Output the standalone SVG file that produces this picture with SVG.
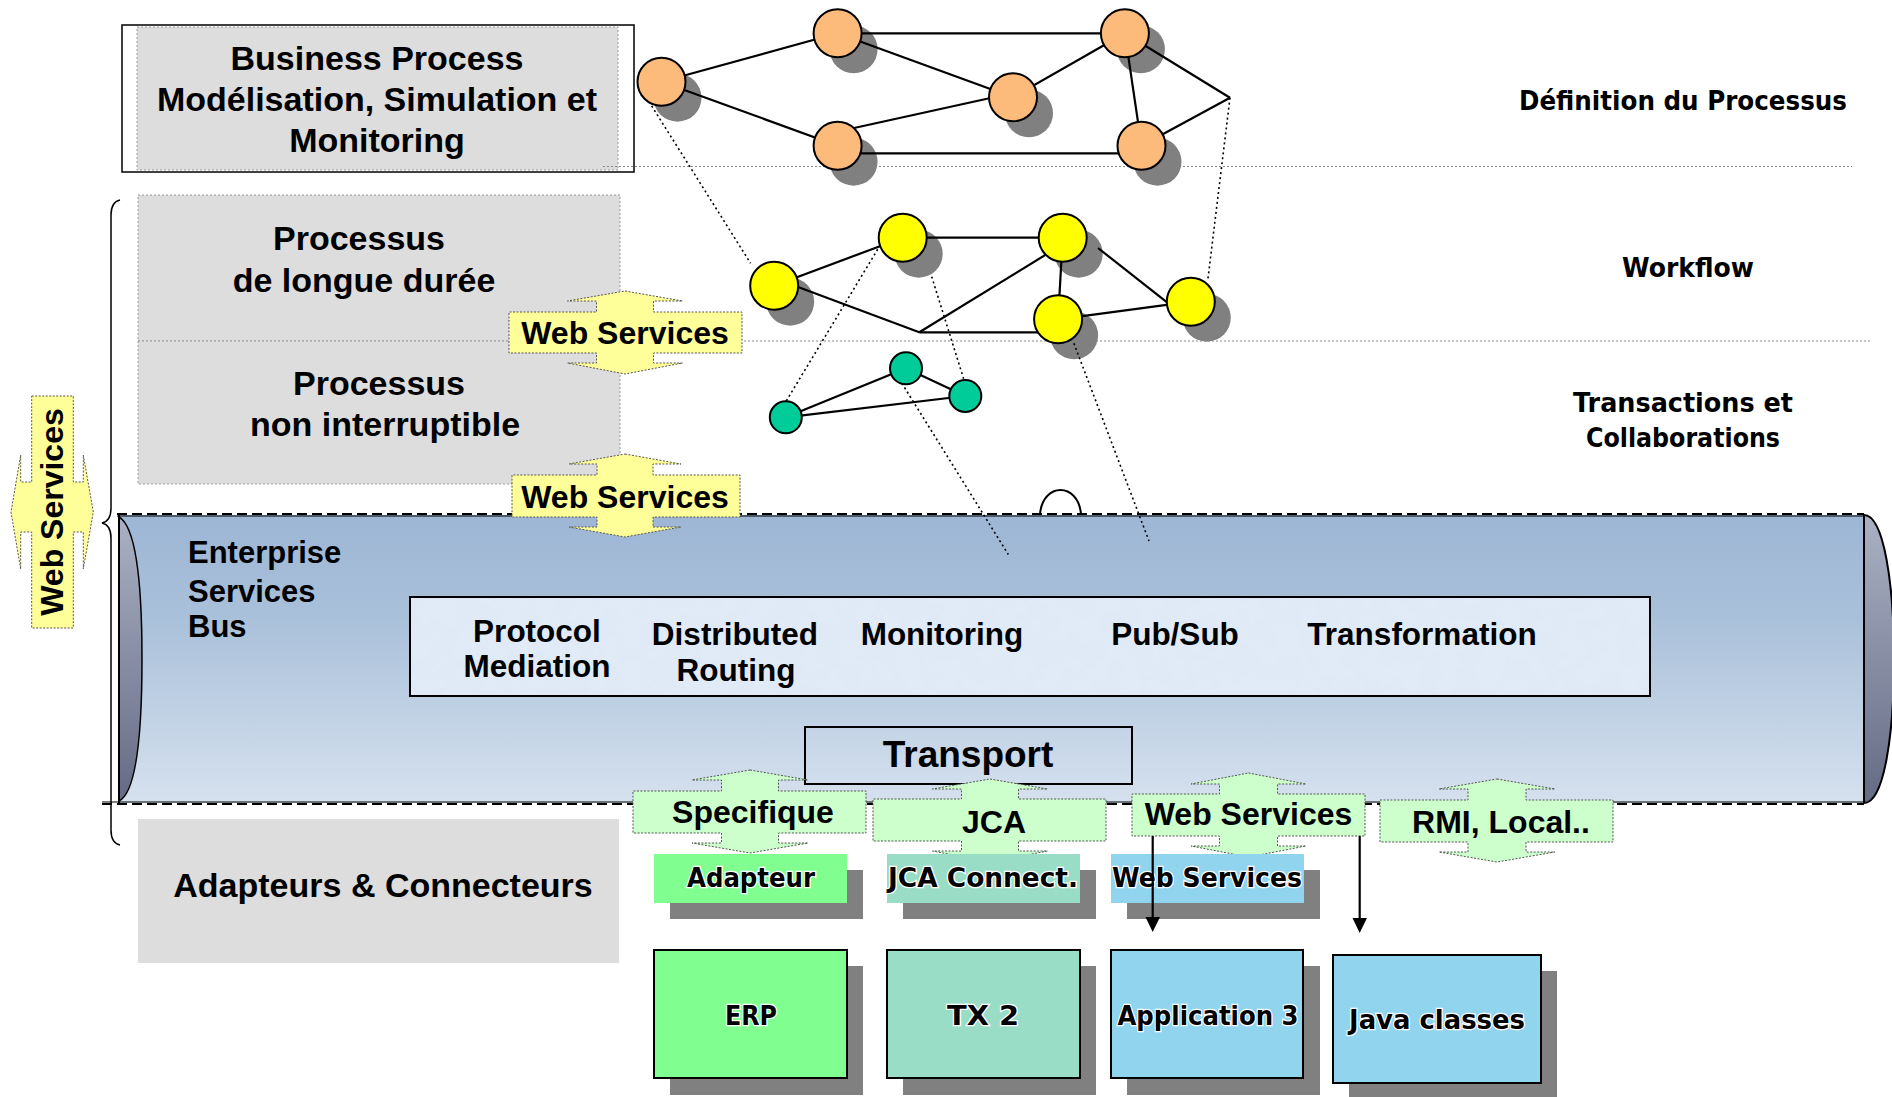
<svg xmlns="http://www.w3.org/2000/svg" width="1892" height="1097" viewBox="0 0 1892 1097">
<defs>
<style>
.t{font-family:"Liberation Sans",Arial,sans-serif;font-weight:bold;fill:#000}
.c{font-family:"DejaVu Sans",sans-serif;font-weight:bold;fill:#000;stroke:#fff;stroke-width:2.5;paint-order:stroke}
.gray{fill:#dddddd;stroke:#9a9a9a;stroke-width:1;stroke-dasharray:2 2}
.hl{stroke:#8a8a8a;stroke-width:1.2;stroke-dasharray:2 2;fill:none}
.edge{stroke:#000;stroke-width:2.2;fill:none}
.dot{stroke:#000;stroke-width:1.6;stroke-dasharray:2 3;fill:none}
.sh{fill:#808080}
.on{fill:#fdbb7b;stroke:#000;stroke-width:2}
.yn{fill:#ffff00;stroke:#000;stroke-width:2}
.gn{fill:#00cc99;stroke:#000;stroke-width:2}
.ay{fill:#ffff99;stroke:#555;stroke-width:1;stroke-dasharray:2 1.5}
.ag{fill:#ccffcc;stroke:#555;stroke-width:1;stroke-dasharray:2 1.5}
.box{stroke:#000;stroke-width:2}
.arr{stroke:#000;stroke-width:2.2;fill:none}
</style>
<linearGradient id="esb" x1="0" y1="0" x2="0" y2="1">
<stop offset="0" stop-color="#9db6d4"/>
<stop offset="0.35" stop-color="#a9c0da"/>
<stop offset="1" stop-color="#d6e1ee"/>
</linearGradient>
<linearGradient id="cap" x1="0" y1="0" x2="0" y2="1">
<stop offset="0" stop-color="#aab1c4"/>
<stop offset="1" stop-color="#646b84"/>
</linearGradient>
<filter id="mottle" x="0" y="0" width="1" height="1">
<feTurbulence type="fractalNoise" baseFrequency="0.05" numOctaves="3" seed="7" result="n"/>
<feColorMatrix in="n" type="matrix" values="0 0 0 0 0.76  0 0 0 0 0.84  0 0 0 0 0.95  1.3 0 0 0 -0.5" result="spots"/>
<feFlood flood-color="#e0eaf6" result="bg"/>
<feComposite in="spots" in2="bg" operator="over" result="m"/>
<feComposite in="m" in2="SourceGraphic" operator="in"/>
</filter>
</defs>

<rect width="1892" height="1097" fill="#fff"/>

<!-- left layer boxes -->
<g id="bp-box">
<rect x="122" y="25" width="512" height="147" fill="#fff" stroke="#000" stroke-width="1.5"/>
<rect class="gray" x="137" y="27" width="481" height="143"/>
<text class="t" font-size="34" text-anchor="middle"><tspan x="377" y="70">Business Process</tspan><tspan x="377" y="111">Modélisation, Simulation et</tspan><tspan x="377" y="152">Monitoring</tspan></text>
</g>
<g id="proc-longue">
<rect class="gray" x="138" y="195" width="482" height="146"/>
<text class="t" font-size="34" text-anchor="middle"><tspan x="359" y="250">Processus</tspan><tspan x="364" y="292">de longue durée</tspan></text>
</g>
<g id="proc-nonint">
<rect class="gray" x="138" y="341" width="482" height="143"/>
<text class="t" font-size="34" text-anchor="middle"><tspan x="379" y="395">Processus</tspan><tspan x="385" y="436">non interruptible</tspan></text>
</g>
<g id="adapt-box">
<rect x="138" y="819" width="481" height="144" fill="#dddddd"/>
<text class="t" font-size="34" text-anchor="middle" x="383" y="897">Adapteurs &amp; Connecteurs</text>
</g>

<!-- separator lines -->
<g id="separators">
<line class="hl" x1="603" y1="166.5" x2="1852" y2="166.5"/>
<line class="hl" x1="620" y1="341" x2="1872" y2="341"/>
</g>

<!-- brace -->
<g id="brace">
<path d="M120,200 Q111,202 111,215 L111,508 Q111,521 102,523 Q111,525 111,538 L111,830 Q111,843 120,845" fill="none" stroke="#000" stroke-width="1.5"/>
</g>

<!-- ESB -->
<g id="esb">
<rect x="119" y="515" width="1745" height="288" fill="url(#esb)"/>
<path d="M1864,515 C1884,515 1894,585 1894,659 C1894,735 1884,803 1864,803 Z" fill="url(#cap)" stroke="#000" stroke-width="2"/>
<path d="M119,517 Q142,530 142,659 Q142,790 119,801 Z" fill="url(#cap)" stroke="#000" stroke-width="1.5"/>
<line x1="119" y1="515" x2="119" y2="803" stroke="#000" stroke-width="2"/>
<line x1="1864" y1="515" x2="1864" y2="803" stroke="#000" stroke-width="2"/>
<line x1="117" y1="516" x2="1864" y2="516" stroke="#000" stroke-width="1.2"/>
<line x1="117" y1="514" x2="1864" y2="514" stroke="#000" stroke-width="2" stroke-dasharray="10 5"/>
<line x1="102" y1="802" x2="1864" y2="802" stroke="#000" stroke-width="1.2"/>
<line x1="102" y1="804" x2="1864" y2="804" stroke="#000" stroke-width="2" stroke-dasharray="10 5"/>
<path d="M1040,514 C1043,482 1078,482 1081,514" fill="none" stroke="#000" stroke-width="2"/>
<text class="t" font-size="31"><tspan x="188" y="563">Enterprise</tspan><tspan x="188" y="602">Services</tspan><tspan x="188" y="637">Bus</tspan></text>
</g>

<g id="esb-services">
<rect x="410" y="597" width="1240" height="99" fill="#dfe9f5" filter="url(#mottle)"/>
<rect x="410" y="597" width="1240" height="99" fill="none" stroke="#000" stroke-width="2"/>
<text class="t" font-size="31.5" text-anchor="middle"><tspan x="537" y="642">Protocol</tspan><tspan x="537" y="677">Mediation</tspan></text>
<text class="t" font-size="31.5" text-anchor="middle"><tspan x="735" y="645">Distributed</tspan><tspan x="736" y="681">Routing</tspan></text>
<text class="t" font-size="31.5" text-anchor="middle" x="942" y="645">Monitoring</text>
<text class="t" font-size="31.5" text-anchor="middle" x="1175" y="645">Pub/Sub</text>
<text class="t" font-size="31.5" text-anchor="middle" x="1422" y="645">Transformation</text>
</g>

<g id="transport">
<rect x="805" y="727" width="327" height="57" fill="none" stroke="#000" stroke-width="2"/>
<text class="t" font-size="37" text-anchor="middle" x="968" y="767">Transport</text>
</g>

<!-- double arrows -->
<g id="ws-arrow-1">
<polygon class="ay" points="625,291 682.5,301 653.5,301 653.5,312 742,312 742,353 653.5,353 653.5,363 682.5,363 625,374 567.5,363 596.5,363 596.5,353 509,353 509,312 596.5,312 596.5,301 567.5,301"/>
<text class="t" font-size="32" text-anchor="middle" x="625" y="344">Web Services</text>
</g>
<g id="ws-arrow-2">
<polygon class="ay" points="625,454 681,464 653,464 653,475 740,475 740,517 653,517 653,527 681,527 625,537 569,527 597,527 597,517 512,517 512,475 597,475 597,464 569,464"/>
<text class="t" font-size="32" text-anchor="middle" x="625" y="508">Web Services</text>
</g>
<g id="ws-arrow-left">
<polygon class="ay" points="31.7,396 73.3,396 73.3,482 83.3,482 83.3,455 93.3,512 83.3,569 83.3,532 73.3,532 73.3,628 31.7,628 31.7,532 20.7,532 20.7,569 11,512 20.7,455 20.7,482 31.7,482"/>
<text class="t" font-size="32" text-anchor="middle" transform="translate(63,512) rotate(-90)">Web Services</text>
</g>
<g id="arrow-specifique">
<polygon class="ag" points="750,770 808,780 778.5,780 778.5,791 866,791 866,833 778.5,833 778.5,843 808,843 750,853 692,843 721.5,843 721.5,833 633,833 633,791 721.5,791 721.5,780 692,780"/>
<text class="t" font-size="32" text-anchor="middle" x="753" y="823">Specifique</text>
</g>
<g id="arrow-jca">
<polygon class="ag" points="990,779 1047.5,789 1018.5,789 1018.5,799 1106,799 1106,841 1018.5,841 1018.5,851 1047.5,851 990,862 932.5,851 961.5,851 961.5,841 873,841 873,799 961.5,799 961.5,789 932.5,789"/>
<text class="t" font-size="32" text-anchor="middle" x="994" y="833">JCA</text>
</g>
<g id="arrow-ws-green">
<polygon class="ag" points="1248.5,773 1306,784 1277.5,784 1277.5,794 1365,794 1365,836 1277.5,836 1277.5,846 1306,846 1248.5,857 1191,846 1219.5,846 1219.5,836 1132,836 1132,794 1219.5,794 1219.5,784 1191,784"/>
<text class="t" font-size="32" text-anchor="middle" x="1248.5" y="825">Web Services</text>
</g>
<g id="arrow-rmi">
<polygon class="ag" points="1497,779 1555,789 1526,789 1526,800 1613,800 1613,842 1526,842 1526,852 1555,852 1497,862 1439,852 1468,852 1468,842 1380,842 1380,800 1468,800 1468,789 1439,789"/>
<text class="t" font-size="32" text-anchor="middle" x="1501" y="833">RMI, Local..</text>
</g>

<!-- adapter labels -->
<g id="lbl-adapteur">
<rect class="sh" x="670" y="870" width="193" height="49"/>
<rect x="654" y="854" width="193" height="49" fill="#80ff90"/>
<text class="c" font-size="26" text-anchor="middle" x="751" y="887" textLength="128" lengthAdjust="spacingAndGlyphs">Adapteur</text>
</g>
<g id="lbl-jca">
<rect class="sh" x="903" y="870" width="193" height="49"/>
<rect x="887" y="854" width="193" height="49" fill="#99ddc6"/>
<text class="c" font-size="26" text-anchor="middle" x="983" y="887" textLength="190" lengthAdjust="spacingAndGlyphs">JCA Connect.</text>
</g>
<g id="lbl-ws">
<rect class="sh" x="1127" y="870" width="193" height="49"/>
<rect x="1111" y="854" width="193" height="49" fill="#90d4ee"/>
<text class="c" font-size="26" text-anchor="middle" x="1207" y="887" textLength="190" lengthAdjust="spacingAndGlyphs">Web Services</text>
</g>

<!-- systems -->
<g id="sys-erp">
<rect class="sh" x="670" y="966" width="193" height="129"/>
<rect class="box" x="654" y="950" width="193" height="128" fill="#80ff90"/>
<text class="c" font-size="27" text-anchor="middle" x="751" y="1025" textLength="52" lengthAdjust="spacingAndGlyphs">ERP</text>
</g>
<g id="sys-tx2">
<rect class="sh" x="903" y="966" width="193" height="129"/>
<rect class="box" x="887" y="950" width="193" height="128" fill="#99ddc6"/>
<text class="c" font-size="27" text-anchor="middle" x="983" y="1025" textLength="72" lengthAdjust="spacingAndGlyphs">TX 2</text>
</g>
<g id="sys-app3">
<rect class="sh" x="1127" y="966" width="193" height="129"/>
<rect class="box" x="1111" y="950" width="192" height="128" fill="#90d4ee"/>
<text class="c" font-size="27" text-anchor="middle" x="1208" y="1025" textLength="181" lengthAdjust="spacingAndGlyphs">Application 3</text>
</g>
<g id="sys-java">
<rect class="sh" x="1349" y="971" width="208" height="126"/>
<rect class="box" x="1333" y="955" width="208" height="128" fill="#90d4ee"/>
<text class="c" font-size="27" text-anchor="middle" x="1437" y="1029" textLength="176" lengthAdjust="spacingAndGlyphs">Java classes</text>
</g>

<!-- right labels -->
<g id="lbl-definition"><text class="c" font-size="26" text-anchor="middle" x="1683" y="110" textLength="328" lengthAdjust="spacingAndGlyphs">Définition du Processus</text></g>
<g id="lbl-workflow"><text class="c" font-size="26" text-anchor="middle" x="1688" y="277" textLength="132" lengthAdjust="spacingAndGlyphs">Workflow</text></g>
<g id="lbl-transactions"><text class="c" font-size="26" text-anchor="middle"><tspan x="1683" y="412" textLength="220" lengthAdjust="spacingAndGlyphs">Transactions et</tspan><tspan x="1683" y="447" textLength="194" lengthAdjust="spacingAndGlyphs">Collaborations</tspan></text></g>

<!-- node shadows -->
<g id="shadows">
<circle class="sh" cx="677.5" cy="97.7" r="24"/>
<circle class="sh" cx="853.6" cy="49.3" r="24"/>
<circle class="sh" cx="853.6" cy="161.7" r="24"/>
<circle class="sh" cx="1029" cy="113.3" r="24"/>
<circle class="sh" cx="1140.9" cy="49.3" r="24"/>
<circle class="sh" cx="1157.5" cy="161.7" r="24"/>
<circle class="sh" cx="790.2" cy="301.7" r="24"/>
<circle class="sh" cx="918.7" cy="253.7" r="24"/>
<circle class="sh" cx="1078.7" cy="253.7" r="24"/>
<circle class="sh" cx="1074.1" cy="335.3" r="24"/>
<circle class="sh" cx="1206.8" cy="317.7" r="24"/>
</g>

<!-- connectors -->
<g id="connectors">
<line class="edge" x1="661.5" y1="81.7" x2="837.6" y2="33.3"/>
<line class="edge" x1="661.5" y1="81.7" x2="837.6" y2="145.7"/>
<line class="edge" x1="837.6" y1="33.3" x2="1124.9" y2="33.3"/>
<line class="edge" x1="837.6" y1="33.3" x2="1013" y2="97.3"/>
<line class="edge" x1="845" y1="130" x2="995" y2="97"/>
<line class="edge" x1="860" y1="153.3" x2="1125" y2="153.3"/>
<line class="edge" x1="1013" y1="97.3" x2="1124.9" y2="33.3"/>
<line class="edge" x1="1124.9" y1="33.3" x2="1141.5" y2="145.7"/>
<line class="edge" x1="1124.9" y1="33.3" x2="1230" y2="97.7"/>
<line class="edge" x1="1141.5" y1="145.7" x2="1230" y2="97.7"/>
<line class="edge" x1="774.2" y1="285.7" x2="902.7" y2="237.7"/>
<line class="edge" x1="790" y1="284" x2="919.3" y2="332.3"/>
<line class="edge" x1="902.7" y1="237.7" x2="1062.7" y2="237.7"/>
<line class="edge" x1="919.3" y1="332.3" x2="1055" y2="249"/>
<line class="edge" x1="919.3" y1="332.3" x2="1045" y2="332.3"/>
<line class="edge" x1="1062.7" y1="237.7" x2="1058.1" y2="319.3"/>
<line class="edge" x1="1098" y1="248" x2="1175" y2="308.6"/>
<line class="edge" x1="1058.1" y1="319.3" x2="1190.8" y2="301.7"/>
<line class="edge" x1="785.8" y1="417.3" x2="906" y2="368.3"/>
<line class="edge" x1="906" y1="368.3" x2="965.3" y2="396"/>
<line class="edge" x1="785.8" y1="417.3" x2="965.3" y2="396"/>
<line class="dot" x1="649" y1="101.7" x2="750.6" y2="263.3"/>
<line class="dot" x1="1230" y1="97.7" x2="1207.8" y2="280"/>
<line class="dot" x1="880.3" y1="245" x2="785.8" y2="401.7"/>
<line class="dot" x1="931.7" y1="276.7" x2="964" y2="380"/>
<line class="dot" x1="901.9" y1="383.3" x2="1008.3" y2="554.5"/>
<line class="dot" x1="1073.9" y1="343.3" x2="1149" y2="541"/>
<line class="arr" x1="1152.7" y1="836" x2="1152.7" y2="918"/>
<polygon points="1145.5,917 1160,917 1152.7,932" fill="#000"/>
<line class="arr" x1="1359.7" y1="836" x2="1359.7" y2="919"/>
<polygon points="1352.5,918 1367,918 1359.7,933" fill="#000"/>
</g>

<!-- graph nodes -->
<g id="node-o1"><circle class="on" cx="661.5" cy="81.7" r="24"/></g>
<g id="node-o2"><circle class="on" cx="837.6" cy="33.3" r="24"/></g>
<g id="node-o3"><circle class="on" cx="837.6" cy="145.7" r="24"/></g>
<g id="node-o4"><circle class="on" cx="1013" cy="97.3" r="24"/></g>
<g id="node-o5"><circle class="on" cx="1124.9" cy="33.3" r="24"/></g>
<g id="node-o6"><circle class="on" cx="1141.5" cy="145.7" r="24"/></g>
<g id="node-y1"><circle class="yn" cx="774.2" cy="285.7" r="24"/></g>
<g id="node-y2"><circle class="yn" cx="902.7" cy="237.7" r="24"/></g>
<g id="node-y3"><circle class="yn" cx="1062.7" cy="237.7" r="24"/></g>
<g id="node-y4"><circle class="yn" cx="1058.1" cy="319.3" r="24"/></g>
<g id="node-y5"><circle class="yn" cx="1190.8" cy="301.7" r="24"/></g>
<g id="node-g1"><circle class="gn" cx="785.8" cy="417.3" r="16"/></g>
<g id="node-g2"><circle class="gn" cx="906" cy="368.3" r="16"/></g>
<g id="node-g3"><circle class="gn" cx="965.3" cy="396" r="16"/></g>
</svg>
